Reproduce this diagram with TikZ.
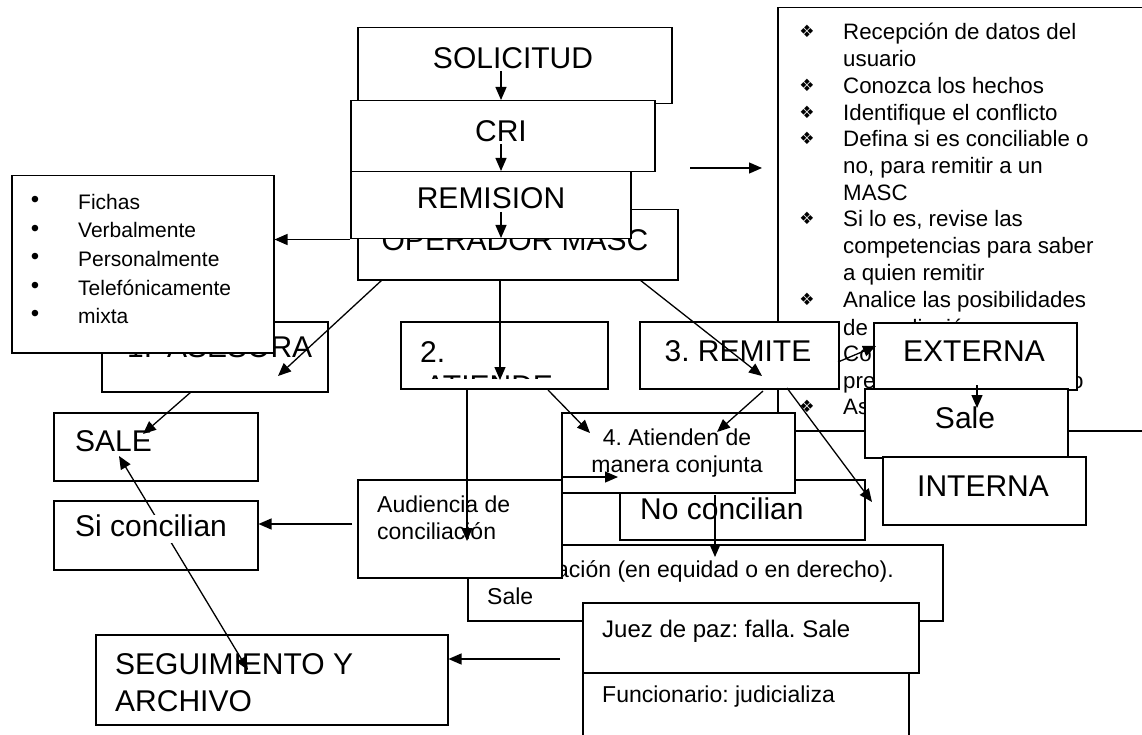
\documentclass[tikz,border=0pt]{standalone}
\usepackage{fontspec}
\setmainfont{Liberation Sans}
\newfontfamily\dejavu{DejaVu Sans}
\usetikzlibrary{arrows.meta}
\frenchspacing
\begin{document}
\frenchspacing
\begin{tikzpicture}[x=1pt,y=-1pt,
  box/.style={draw, line width=1.5pt, fill=white, inner sep=0pt, anchor=north west},
  big/.style={inner sep=0pt, text height=21.5pt, text depth=0pt, font=\fontsize{30}{36}\selectfont},
  mid/.style={inner sep=0pt, text height=16.5pt, text depth=0pt, font=\fontsize{23}{28}\selectfont},
  lst/.style={inner sep=0pt, text height=16pt, text depth=0pt, font=\fontsize{22.3}{27}\selectfont, anchor=west},
  sml/.style={inner sep=0pt, text height=15pt, text depth=0pt, font=\fontsize{21}{25}\selectfont, anchor=west},
  jz/.style={inner sep=0pt, text height=17.2pt, text depth=0pt, font=\fontsize{24}{29}\selectfont, anchor=west},
  dia/.style={inner sep=0pt, text height=12pt, text depth=0pt, font=\dejavu\fontsize{17}{20}\selectfont},
  dot/.style={inner sep=0pt, font=\fontsize{24}{28}\selectfont},
  arr/.style={-{Triangle[length=13pt,width=11pt]}, line width=1.3pt},
  darr/.style={{Triangle[length=13pt,width=11pt]}-{Triangle[length=13pt,width=11pt]}, line width=1.3pt},
]
\useasboundingbox (0,0) rectangle (1142,735);

% big right box
\node[box, minimum width=380pt, minimum height=423pt] (bigR) at (777,7) {};
\foreach \t/\b/\yy [count=\i from 0] in {Recepción de datos del/1/32, usuario/0/58.7, Conozca los hechos/1/85.4,
  Identifique el conflicto/1/112.1, Defina si es conciliable o/1/138.8, {no, para remitir a un}/0/165.5, MASC/0/192.2,
  {Si lo es, revise las}/1/218.9, competencias para saber/0/245.6, a quien remitir/0/272.3,
  Analice las posibilidades/1/299, de mediación/0/327, Comunique el/1/353, presupuesto del servicio/0/380, Asigne fecha/1/406}{
  \node[lst] (r\i) at (843,\yy) {\t};
  \ifnum\b=1 \node[dia] (rb\i) at (807,\yy) {❖}; \fi
}

% top chain
\node[box, minimum width=314pt, minimum height=76pt] (sol) at (357,27) {};
\node[big] (solT) at (513,58) {SOLICITUD};
\node[box, minimum width=304pt, minimum height=71pt] (cri) at (350,100) {};
\node[big] (criT) at (501,131) {CRI};
\node[box, minimum width=320pt, minimum height=70pt] (op) at (357,209) {};
\node[big] (opT) at (515,240) {OPERADOR MASC};
\node[box, minimum width=280pt, minimum height=67pt] (rem) at (350,171) {};
\node[big] (remT) at (491,198) {REMISION};

% asesora + list box
\node[box, minimum width=226pt, minimum height=70pt] (ase) at (101,321) {};
\node[big, anchor=west] (aseN) at (127,347) {1.};
\node[big, anchor=west] (aseT) at (167,347) {ASESORA};
\node[box, minimum width=262pt, minimum height=177pt] (lstb) at (11,175) {};
\foreach \t [count=\i from 0] in {Fichas, Verbalmente, Personalmente, Telefónicamente, mixta}{
  \pgfmathsetmacro\yy{202+28.5*\i}
  \node[dot] (lb\i) at (35,\yy) {•};
  \node[sml] (l\i) at (78,\yy) {\t};
}

% atiende / remite
\node[box, minimum width=207pt, minimum height=67pt] (ati) at (400,321) {};
\node[big, anchor=west] (atiN) at (420,352) {2.};
\begin{scope}
  \clip (400,321) rectangle (607,378);
  \node[big, anchor=west] (atiT) at (425,386) {ATIENDE};
\end{scope}
\node[box, minimum width=199pt, minimum height=67pt] (rmt) at (639,321) {};
\node[big] (rmtT) at (738,351) {3. REMITE};

% right column
\node[box, minimum width=203pt, minimum height=67pt] (ext) at (873,322) {};
\node[big] (extT) at (974,351) {EXTERNA};
\node[box, minimum width=203pt, minimum height=69pt] (saleR) at (864,388) {};
\node[big] (saleRT) at (965,418) {Sale};
\node[box, minimum width=203pt, minimum height=68pt] (int) at (882,456) {};
\node[big] (intT) at (983,486) {INTERNA};

% left column
\node[box, minimum width=204pt, minimum height=68pt] (sale) at (53,412) {};
\node[big, anchor=west] (saleT) at (75,441) {SALE};
\node[box, minimum width=204pt, minimum height=69pt] (sic) at (53,500) {};

% middle
\node[box, minimum width=245pt, minimum height=60pt] (noc) at (619,479) {};
\node[big, anchor=west] (nocT) at (640,509) {No concilian};
\node[box, minimum width=233pt, minimum height=80pt] (cj) at (561,412) {};
\node[mid] (cjA) at (677,437) {4. Atienden de};
\node[mid] (cjB) at (677,464) {manera conjunta};
\node[box, minimum width=475pt, minimum height=76pt] (aci) at (467,544) {};
\node[mid, anchor=west] (aciA) at (487,569) {Conciliación (en equidad o en derecho).};
\node[mid, anchor=west] (aciB) at (487,596) {Sale};
\node[box, minimum width=204pt, minimum height=98pt] (aud) at (357,479) {};
\node[mid, anchor=west] (audA) at (377,504) {Audiencia de};
\node[mid, anchor=west] (audB) at (377,531) {conciliación};

% bottom
\node[box, minimum width=326pt, minimum height=90pt] (fun) at (582,672) {};
\node[mid, anchor=west] (funT) at (602,694) {Funcionario: judicializa};
\node[box, minimum width=336pt, minimum height=70pt] (juez) at (582,602) {};
\node[jz] (juezT) at (602,629) {Juez de paz: falla. Sale};
\node[box, minimum width=352pt, minimum height=90pt] (seg) at (95,634) {};
\node[big, anchor=west] (segA) at (115,664) {SEGUIMIENTO Y};
\node[big, anchor=west] (segB) at (115,701) {ARCHIVO};

% free connector ends
\coordinate (c1) at (501,71);
\coordinate (c2) at (501,144);
\coordinate (c3) at (501,212);
\coordinate (c3e) at (501,238);
\coordinate (c5s) at (382,280);
\coordinate (c5e) at (278,376);
\coordinate (c6s) at (500,279);
\coordinate (c6e) at (500,380);
\coordinate (c7s) at (640,280);
\coordinate (c7e) at (762,376);
\coordinate (c8s) at (690,168);
\coordinate (c8e) at (762,168);
\coordinate (c9s) at (191,392);
\coordinate (c9e) at (143,434);
\coordinate (c10s) at (467,388);
\coordinate (c10e) at (467,541);
\coordinate (c11s) at (548,390);
\coordinate (c11e) at (590,433);
\coordinate (c12s) at (763,391);
\coordinate (c12e) at (717,432);
\coordinate (c13s) at (838,362);
\coordinate (c13e) at (876,346);
\coordinate (c14s) at (787,388);
\coordinate (c14e) at (872,502);
\coordinate (c15s) at (977,385);
\coordinate (c15e) at (977,408);
\coordinate (c16s) at (352,524);
\coordinate (c17s) at (561,477);
\coordinate (c17e) at (618,477);
\coordinate (c18s) at (715,495);
\coordinate (c18e) at (715,557);
\coordinate (c19s) at (560,659);
\coordinate (c20a) at (119,456);
\coordinate (c20b) at (248,670);

% connectors
\draw[arr] (c1) -- (c1 |- cri.north);
\draw[arr] (c2) -- (c2 |- rem.north);
\draw[arr] (c3) -- (c3e);
\draw[arr] (rem.south west) -- (rem.south west -| lstb.east);
\draw[arr] (c5s) -- (c5e);
\draw[arr] (c6s) -- (c6e);
\draw[arr] (c7s) -- (c7e);
\draw[arr] (c8s) -- (c8e);
\draw[arr] (c9s) -- (c9e);
\draw[arr] (c10s) -- (c10e);
\draw[arr] (c11s) -- (c11e);
\draw[arr] (c12s) -- (c12e);
\draw[arr] (c13s) -- (c13e);
\draw[arr] (c14s) -- (c14e);
\draw[arr] (c15s) -- (c15e);
\draw[arr] (c16s) -- (c16s -| sic.east);
\draw[arr] (c17s) -- (c17e);
\draw[arr] (c18s) -- (c18e);
\draw[arr] (c19s) -- (c19s -| seg.east);
\draw[darr] (c20a) -- (c20b);
\node[big, anchor=west, fill=white, text depth=6pt] (sicT) at (75,529) {Si concilian};
\end{tikzpicture}
\end{document}
